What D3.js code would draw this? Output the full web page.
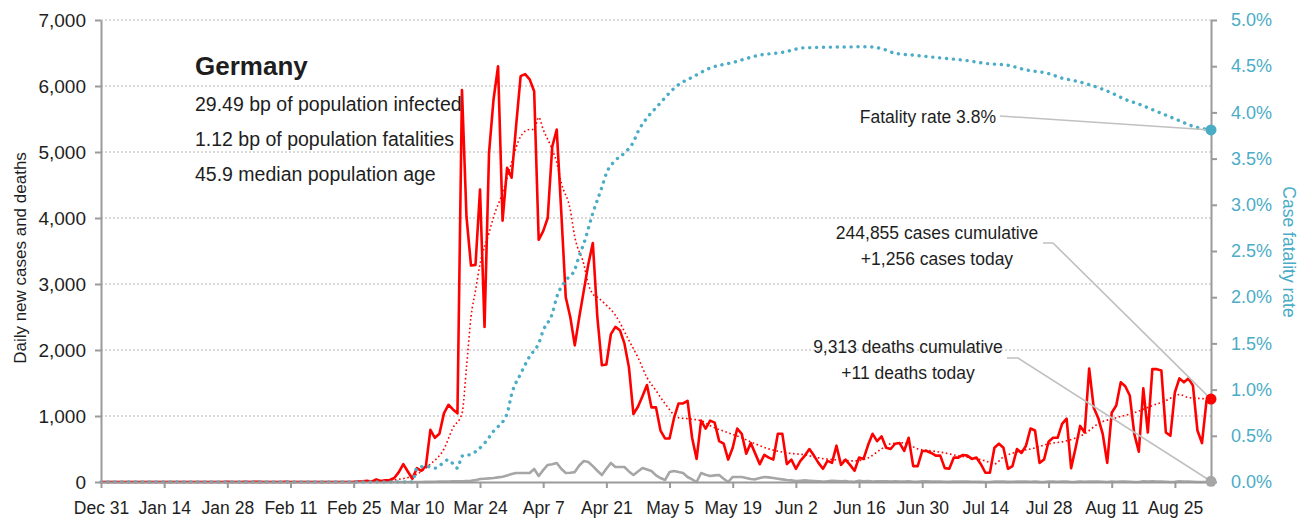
<!DOCTYPE html>
<html>
<head>
<meta charset="utf-8">
<script src="https://cdn.jsdelivr.net/npm/d3@7"></script>
<style>
  body { margin: 0; background: #fff; }
  svg { display: block; font-family: "Liberation Sans", Arial, sans-serif; }
</style>
</head>
<body>
<svg id="vis" width="1312" height="523"></svg>
<script>
const startDate = new Date(2019, 11, 31);

// daily new cases, one value per day from Dec 31
const dailyCases = [
  0,0,0,0,0,0,0,0,0,0, 0,0,0,0,0,0,0,0,0,0, 0,0,0,0,0,0,0,0,
  4,0,0,1,3,0,2,2,0,0, 1,0,0,2,0,0,0,0,1,0, 0,0,0,0,0,0,0,0,
  2,8,10,20,5,40,15,25,30,60,150,270,160,50,
  210,170,240,790,670,730,1040,1170,1100,1040,
  5940,4020,3280,3290,4430,2350,4990,5800,6300,3960,
  4760,4610,5400,6150,6180,6100,5920,3670,3800,4000,
  5080,5340,4100,2800,2500,2070,2500,2900,3300,3620,
  2500,1770,1780,2240,2350,2300,2100,1740,1030,1140,
  1300,1470,1130,1130,780,660,660,970,1190,1190,
  1230,670,350,930,810,930,900,620,580,340,
  520,810,730,430,590,430,270,410,370,340,
  730,730,270,340,200,320,400,500,400,290,
  200,320,290,550,260,340,260,170,370,350,
  560,730,620,690,520,500,580,590,470,670,
  240,240,470,470,440,400,400,210,200,370,
  370,410,400,350,370,270,140,140,520,580,
  520,200,240,500,440,550,810,780,290,340,
  610,670,670,880,960,210,520,850,750,1720,
  1130,970,730,290,1050,1160,1510,1450,1310,730,
  460,1420,750,1710,1710,1690,750,700,1360,1570,
  1510,1570,1460,780,590,1230,1256
];

// daily deaths, same days
const dailyDeaths = [
  0,0,0,0,0,0,0,0,0,0, 0,0,0,0,0,0,0,0,0,0, 0,0,0,0,0,0,0,0,0,0,
  0,0,0,0,0,0,0,0,0,0, 0,0,0,0,0,0,0,0,0,0, 0,0,0,0,0,0,0,0,0,0,
  0,0,0,0,0,0,0,0,0,0, 0,
  1,2,2,3,5,5,8,10,12,
  10,15,20,28,45,50,55,60,70,80,
  100,120,136,136,136,136,197,91,180,258,
  270,288,200,136,140,150,250,318,303,240,
  170,106,200,288,227,227,227,160,106,160,
  212,190,167,100,60,30,150,167,150,136,
  76,40,0,136,110,91,100,106,50,0,
  76,76,76,60,45,40,60,76,70,60,
  50,40,30,25,15,20,25,20,15,10,
  5,12,18,15,10,15,5,2,20,10,
  15,8,10,12,10,6,12,8,5,10,
  3,2,12,10,8,8,5,3,2,7,
  8,5,6,4,3,2,0,1,7,6,
  5,2,3,5,7,6,4,6,2,1,
  6,5,4,5,5,1,2,7,4,8,
  6,5,3,1,5,4,5,5,4,1,
  0,9,6,10,5,6,3,0,3,10,
  5,6,3,1,0,4,11
];

// moving average of cases, read at these day offsets
const avgDays = [0,60,65,70,73,76,78,80,81,82,83,84,86,87,89,91,93,95,96,97,98,100,101,102,104,105,107,108,109,110,112,114,117,119,121,123,125,128,130,133,135,139,142,145,148,152,156,159,163,167,170,173,175,178,181,184,187,190,193,196,198,200,203,207,210,214,218,221,225,229,233,236,239,241,244,246];
const avgCases = [0,5,30,120,270,500,820,1035,1735,2500,2900,3300,3775,4018,4380,4840,5236,5342,5342,5525,5342,5038,4840,4535,4125,3714,3300,3000,2850,2800,2679,2527,2146,1887,1583,1385,1187,974,959,928,852,746,670,578,502,441,411,365,335,320,365,502,578,594,502,472,441,396,365,320,274,380,455,517,578,624,730,883,974,1050,1157,1233,1324,1279,1263,1248];

// case fatality rate in percent, read at these day offsets
const rateDays = [0,69,70,72,74,77,79,80,82,85,87,90,91,93,95,97,98,100,101,103,105,106,107,109,111,112,114,116,118,119,121,123,128,131,135,140,146,151,156,170,173,176,180,186,192,196,201,205,210,213,216,219,222,224,227,230,233,236,239,242,246];
const rateValues = [0,0,0.15,0.17,0.15,0.24,0.15,0.28,0.30,0.42,0.55,0.74,0.95,1.17,1.36,1.50,1.64,1.82,2.00,2.18,2.30,2.45,2.58,2.91,3.19,3.34,3.48,3.56,3.68,3.79,3.94,4.05,4.30,4.38,4.48,4.54,4.62,4.65,4.70,4.71,4.69,4.64,4.62,4.59,4.56,4.53,4.51,4.46,4.42,4.37,4.34,4.30,4.25,4.21,4.14,4.09,4.03,3.97,3.91,3.85,3.81];

const xTickLabels = ["Dec 31","Jan 14","Jan 28","Feb 11","Feb 25","Mar 10","Mar 24","Apr 7","Apr 21","May 5","May 19","Jun 2","Jun 16","Jun 30","Jul 14","Jul 28","Aug 11","Aug 25"];
const leftTicks = [0,1000,2000,3000,4000,5000,6000,7000];
const rightTicks = [0,0.5,1,1.5,2,2.5,3,3.5,4,4.5,5];

const statLines = ["29.49 bp of population infected","1.12 bp of population fatalities","45.9 median population age"];
const lastCases = 1256;
const lastDeaths = 11;
const lastRate = 3.81;

const blue = "#4bacc6";
const axisGrey = "#9a9a9a";
const textCol = "#1e1e1e";

const svg = d3.select("#vis");

const day = i => d3.timeDay.offset(startDate, i);
const lastDay = dailyCases.length - 1;

const x = d3.scaleTime().domain([startDate, day(lastDay)]).range([101, 1211]);
const yLeft = d3.scaleLinear().domain([0, 7000]).range([482, 20]);
const yRight = d3.scaleLinear().domain([0, 5]).range([482, 20]);

// gridlines
svg.append("g")
  .selectAll("line")
  .data(leftTicks.slice(1))
  .join("line")
  .attr("x1", 101)
  .attr("x2", 1211)
  .attr("y1", d => yLeft(d))
  .attr("y2", d => yLeft(d))
  .attr("stroke", "#b5b5b5")
  .attr("stroke-width", 1)
  .attr("stroke-dasharray", "2,2");

const caseLine = d3.line()
  .x((d, i) => x(day(i)))
  .y(d => yLeft(d));

// deaths
svg.append("path")
  .attr("d", caseLine(dailyDeaths))
  .attr("fill", "none")
  .attr("stroke", "#a6a6a6")
  .attr("stroke-width", 2.6)
  .attr("stroke-linejoin", "round");

// cases
svg.append("path")
  .attr("d", caseLine(dailyCases))
  .attr("fill", "none")
  .attr("stroke", "#ff0000")
  .attr("stroke-width", 2.6)
  .attr("stroke-linejoin", "round");

// moving average
svg.append("path")
  .attr("d", d3.line()
    .x((d, i) => x(day(avgDays[i])))
    .y(d => yLeft(d))
    .curve(d3.curveMonotoneX)(avgCases))
  .attr("fill", "none")
  .attr("stroke", "#ff0000")
  .attr("stroke-width", 1.6)
  .attr("stroke-dasharray", "1.6,2.6");

// fatality rate
svg.append("path")
  .attr("d", d3.line()
    .x((d, i) => x(day(rateDays[i])))
    .y(d => yRight(d))
    .curve(d3.curveMonotoneX)(rateValues))
  .attr("fill", "none")
  .attr("stroke", blue)
  .attr("stroke-width", 3.4)
  .attr("stroke-linecap", "round")
  .attr("stroke-dasharray", "0.1,6.8");

// axes
const styleAxis = (g, col, size) => {
  g.select(".domain").attr("stroke", axisGrey).attr("stroke-width", 2);
  g.selectAll(".tick line").attr("stroke", axisGrey).attr("stroke-width", 2);
  g.selectAll(".tick text").attr("fill", col).style("font-size", size);
};

svg.append("g")
  .attr("transform", "translate(101,0)")
  .call(d3.axisLeft(yLeft).tickValues(leftTicks).tickSize(6).tickSizeOuter(0).tickPadding(9).tickFormat(d3.format(",")))
  .call(g => styleAxis(g, textCol, "19px"));

svg.append("g")
  .attr("transform", "translate(1211,0)")
  .call(d3.axisRight(yRight).tickValues(rightTicks).tickSize(6).tickSizeOuter(0).tickPadding(14).tickFormat(d => d.toFixed(1) + "%"))
  .call(g => styleAxis(g, blue, "18px"));

svg.append("g")
  .attr("transform", "translate(0,482)")
  .call(d3.axisBottom(x).tickValues(xTickLabels.map((d, i) => day(i * 14))).tickSize(6).tickSizeOuter(0).tickPadding(14).tickFormat((d, i) => xTickLabels[i]))
  .call(g => styleAxis(g, textCol, "17.5px"));

// axis titles
svg.append("text")
  .attr("transform", "translate(26,258) rotate(-90)")
  .attr("text-anchor", "middle")
  .attr("fill", textCol)
  .style("font-size", "17px")
  .text("Daily new cases and deaths");

svg.append("text")
  .attr("transform", "translate(1283,252) rotate(90)")
  .attr("text-anchor", "middle")
  .attr("fill", blue)
  .style("font-size", "17.5px")
  .text("Case fatality rate");

// title block
svg.append("text")
  .attr("x", 195)
  .attr("y", 75)
  .attr("fill", textCol)
  .style("font-size", "26px")
  .style("font-weight", "bold")
  .text("Germany");

svg.append("g")
  .selectAll("text")
  .data(statLines)
  .join("text")
  .attr("x", 195)
  .attr("y", (d, i) => 111 + i * 35)
  .attr("fill", textCol)
  .style("font-size", "19.5px")
  .text(d => d);

// annotations
const endX = x(day(lastDay));
const pointers = [
  { pts: [[1000, 116], [endX, yRight(lastRate)]] },
  { pts: [[1043, 243], [1053, 243], [endX, yLeft(lastCases)]] },
  { pts: [[1007, 358], [1018, 358], [endX, yLeft(lastDeaths)]] },
];
svg.append("g")
  .selectAll("path")
  .data(pointers)
  .join("path")
  .attr("d", d => d3.line()(d.pts))
  .attr("fill", "none")
  .attr("stroke", "#c0c0c0")
  .attr("stroke-width", 1.6);

const notes = [
  { x: 996, y: 123, anchor: "end", text: "Fatality rate 3.8%" },
  { x: 937, y: 239, anchor: "middle", text: "244,855 cases cumulative" },
  { x: 937, y: 265, anchor: "middle", text: "+1,256 cases today" },
  { x: 908, y: 353, anchor: "middle", text: "9,313 deaths cumulative" },
  { x: 908, y: 379, anchor: "middle", text: "+11 deaths today" },
];
svg.append("g")
  .selectAll("text")
  .data(notes)
  .join("text")
  .attr("x", d => d.x)
  .attr("y", d => d.y)
  .attr("text-anchor", d => d.anchor)
  .attr("fill", textCol)
  .style("font-size", "17.5px")
  .text(d => d.text);

// end markers
svg.append("circle").attr("cx", endX).attr("cy", yRight(lastRate)).attr("r", 5.5).attr("fill", blue);
svg.append("circle").attr("cx", endX).attr("cy", yLeft(lastCases)).attr("r", 5.5).attr("fill", "#ff0000");
svg.append("circle").attr("cx", endX).attr("cy", yLeft(lastDeaths)).attr("r", 5.5).attr("fill", "#a6a6a6");
</script>
</body>
</html>
